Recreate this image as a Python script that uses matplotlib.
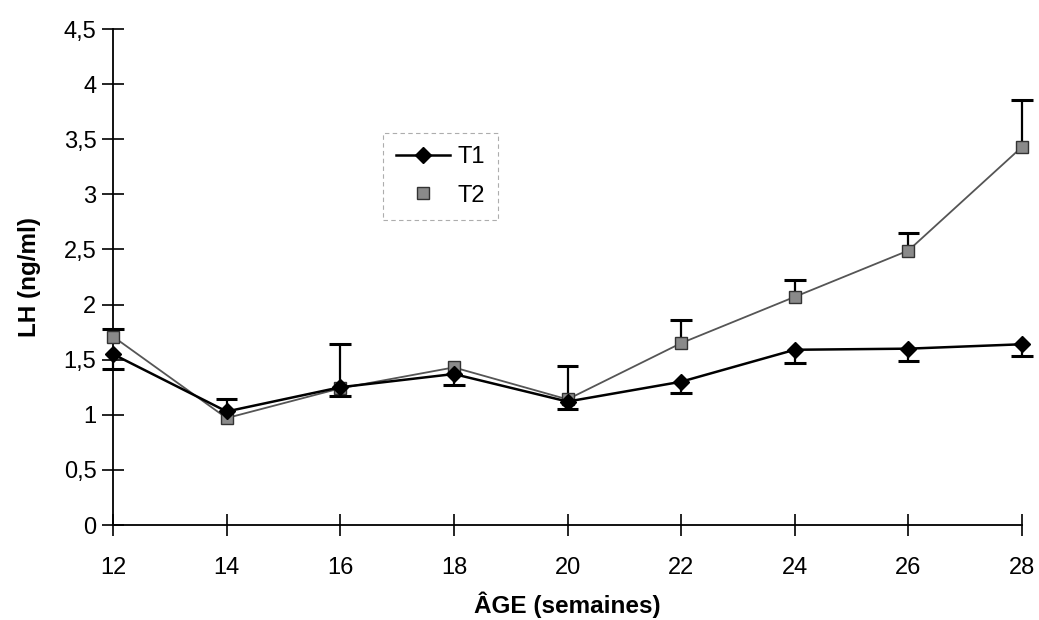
import matplotlib
matplotlib.use("Agg")
import matplotlib.pyplot as plt

weeks = [12, 14, 16, 18, 20, 22, 24, 26, 28]
t1 = [1.55, 1.03, 1.25, 1.37, 1.12, 1.30, 1.59, 1.60, 1.64]
t1_err_low = [0.13, 0.0, 0.08, 0.10, 0.07, 0.10, 0.12, 0.11, 0.11]
t2 = [1.71, 0.97, 1.24, 1.43, 1.14, 1.65, 2.07, 2.49, 3.43]
t2_err_up = [0.07, 0.17, 0.40, 0.0, 0.30, 0.21, 0.15, 0.16, 0.43]
x_ticks = [12, 14, 16, 18, 20, 22, 24, 26, 28]
y_ticks = [0, 0.5, 1, 1.5, 2, 2.5, 3, 3.5, 4, 4.5]
y_labels = ["0", "0,5", "1", "1,5", "2", "2,5", "3", "3,5", "4", "4,5"]

plt.rcParams['font.family'] = ['Liberation Sans', 'DejaVu Sans']
fig = plt.figure(figsize=(10.39, 6.2), dpi=100)
ax = fig.add_axes([0.1088, 0.1532, 0.8748, 0.8])

cap = 0.19  # half cap width in weeks
for x, y, e in zip(weeks, t2, t2_err_up):
    if e > 0:
        ax.vlines(x, y, y + e, color='black', lw=1.6, zorder=2, clip_on=False)
        ax.hlines(y + e, x - cap, x + cap, color='black', lw=2.2, zorder=2, clip_on=False)
for x, y, e in zip(weeks, t1, t1_err_low):
    if e > 0:
        ax.vlines(x, y - e, y, color='black', lw=1.6, zorder=2, clip_on=False)
        ax.hlines(y - e, x - cap, x + cap, color='black', lw=2.2, zorder=2, clip_on=False)

ax.plot(weeks, t2, color='#555555', lw=1.3, ls='-', marker='s', ms=8,
        mfc='#8a8a8a', mec='#333333', mew=1, label='T2', zorder=3, clip_on=False)
ax.plot(weeks, t1, color='black', lw=1.8, marker='D', ms=8,
        mfc='black', mec='black', label='T1', zorder=4, clip_on=False)

ax.set_xlim(12, 28)
ax.set_ylim(0, 4.5)
ax.set_xticks(x_ticks)
ax.set_yticks(y_ticks)
ax.set_yticklabels(y_labels)
ax.tick_params(axis='both', direction='inout', length=16, width=1.2,
               labelsize=17, colors='black')
ax.tick_params(axis='x', pad=15)
ax.tick_params(axis='y', pad=4)
for s in ['top', 'right']:
    ax.spines[s].set_visible(False)
for s in ['left', 'bottom']:
    ax.spines[s].set_linewidth(1.3)

ax.set_xlabel('ÂGE (semaines)', fontsize=17.5, fontweight='bold', labelpad=9)
ax.set_ylabel('LH (ng/ml)', fontsize=17.5, fontweight='bold', labelpad=16)

h, l = ax.get_legend_handles_labels()
leg = ax.legend([h[1], h[0]], [l[1], l[0]], loc='upper left',
                bbox_to_anchor=(383 / 1039, 1 - 133 / 620),
                bbox_transform=fig.transFigure, fontsize=17, frameon=True,
                fancybox=False, edgecolor='#999999', handlelength=2.3,
                handletextpad=0.3, borderpad=0.55, labelspacing=0.7,
                borderaxespad=0)
leg.get_frame().set_linestyle((0, (4, 3)))
leg.get_frame().set_linewidth(0.8)
leg.legend_handles[1].set_linestyle('none')

fig.savefig('out.png', dpi=100, facecolor='white')
